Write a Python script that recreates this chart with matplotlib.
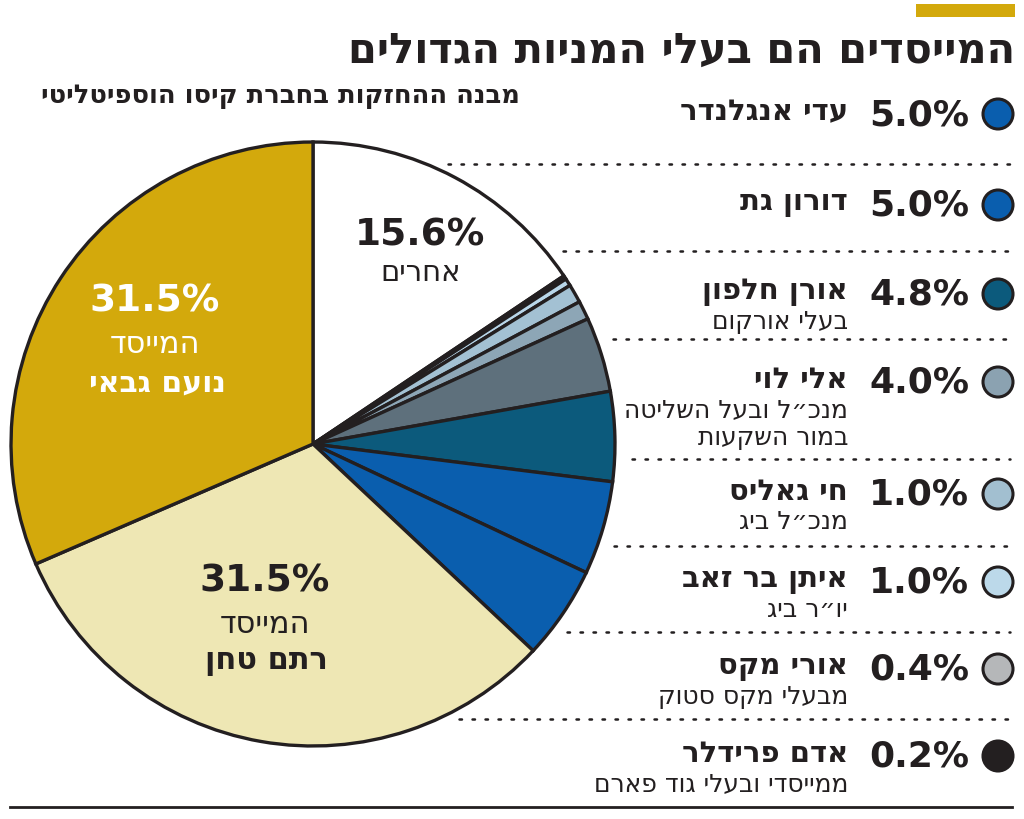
import numpy as np
import matplotlib
matplotlib.use('Agg')
import matplotlib.pyplot as plt
from matplotlib.patches import Circle, Rectangle

plt.rcParams['font.family'] = ['DejaVu Sans']

# legend order, top to bottom
pcts = [5.0, 5.0, 4.8, 4.0, 1.0, 1.0, 0.4, 0.2]
names = ['עדי אנגלנדר', 'דורון גת', 'אורן חלפון', 'אלי לוי', 'חי גאליס',
         'איתן בר זאב', 'אורי מקס', 'אדם פרידלר']
roles = [[], [], ['בעלי אורקום'], ['מנכ״ל ובעל השליטה', 'במור השקעות'],
         ['מנכ״ל ביג'], ['יו״ר ביג'], ['מבעלי מקס סטוק'], ['ממייסדי ובעלי גוד פארם']]
dot_colors = ['#0a5eae', '#0a5eae', '#0c5a7c', '#8ba2b1', '#a2bfd0',
              '#bcd9ea', '#b5b7b9', '#231f20']
slice_colors = ['#0a5eae', '#0a5eae', '#0c5a7c', '#5e707c', '#8da6b6',
                '#a3c1d3', '#b9d7ea', '#231f20']

others = 15.6
founder_rt = 31.5   # רתם טחן
founder_ng = 31.5   # נועם גבאי

title = 'המייסדים הם בעלי המניות הגדולים'
subtitle = 'מבנה ההחזקות בחברת קיסו הוספיטליטי'

GOLD = '#d3a90c'
PALE = '#eee7b4'
INK = '#231f20'


def rtl(s):
    # matplotlib lays text out left to right, so flip Hebrew to visual order
    return s[::-1]


fig = plt.figure(figsize=(10.24, 8.2), dpi=100)

# pie: center (313, 445) px, radius 305 px
cx, cy, R = 313, 445, 305
pax = fig.add_axes([(cx - R) / 1024, (820 - cy - R) / 820, 2 * R / 1024, 2 * R / 820])
values = [others] + pcts[::-1] + [founder_rt, founder_ng]
colors = ['white'] + slice_colors[::-1] + [PALE, GOLD]
pax.pie(values, colors=colors, startangle=90, counterclock=False, radius=1,
        wedgeprops=dict(edgecolor=INK, linewidth=2.4))
pax.set_xlim(-1.01, 1.01)
pax.set_ylim(-1.01, 1.01)
pax.axis('off')

# overlay in pixel coords
ax = fig.add_axes([0, 0, 1, 1])
ax.set_xlim(0, 1024)
ax.set_ylim(820, 0)
ax.axis('off')

ax.add_patch(Rectangle((916, 5), 99, 13, color=GOLD, lw=0))
ax.text(1015, 51, rtl(title), ha='right', va='center', fontsize=30,
        fontweight='bold', color=INK)
ax.text(520, 96, rtl(subtitle), ha='right', va='center', fontsize=18.5,
        fontweight='bold', color=INK)

# pie labels
ax.text(420, 236, f'{others}%', ha='center', va='center', fontsize=27,
        fontweight='bold', color=INK)
ax.text(421, 273, rtl('אחרים'), ha='center', va='center', fontsize=21, color=INK)
ax.text(155, 302, f'{founder_ng}%', ha='center', va='center', fontsize=27,
        fontweight='bold', color='white')
ax.text(155, 345, rtl('המייסד'), ha='center', va='center', fontsize=22, color='white')
ax.text(157, 383, rtl('נועם גבאי'), ha='center', va='center', fontsize=21.5,
        fontweight='bold', color='white')
ax.text(265, 582, f'{founder_rt}%', ha='center', va='center', fontsize=27,
        fontweight='bold', color=INK)
ax.text(265, 625, rtl('המייסד'), ha='center', va='center', fontsize=22, color=INK)
ax.text(266, 662, rtl('רתם טחן'), ha='center', va='center', fontsize=22,
        fontweight='bold', color=INK)

# legend rows
row_y = [112, 203, 292, 380, 492, 580, 667, 754]
for i, (p, n, r, c) in enumerate(zip(pcts, names, roles, dot_colors)):
    y = row_y[i]
    ax.add_patch(Circle((998, y + 3), 15, facecolor=c, edgecolor=INK, lw=2.2))
    ax.text(969, y + 3, f'{p:.1f}%', ha='right', va='center', fontsize=26,
            fontweight='bold', color=INK)
    ax.text(848, y, rtl(n), ha='right', va='center', fontsize=21,
            fontweight='bold', color=INK)
    for k, line in enumerate(r):
        ax.text(848, y + 30 + 28 * k, rtl(line), ha='right', va='center',
                fontsize=18, color=INK)

# dotted separators, starting just outside the pie
sep_y = [165, 252, 340, 460, 547, 633, 720]
for y in sep_y:
    dy = abs(y - cy)
    x0 = cx + np.sqrt(max(R ** 2 - dy ** 2, 0)) + 14
    ax.plot([x0, 1010], [y, y], color=INK, lw=1.8, linestyle=(0, (1, 4.2)),
            dash_capstyle='round')

ax.plot([10, 1012], [808, 808], color=INK, lw=2)

fig.savefig('out.png', dpi=100)
